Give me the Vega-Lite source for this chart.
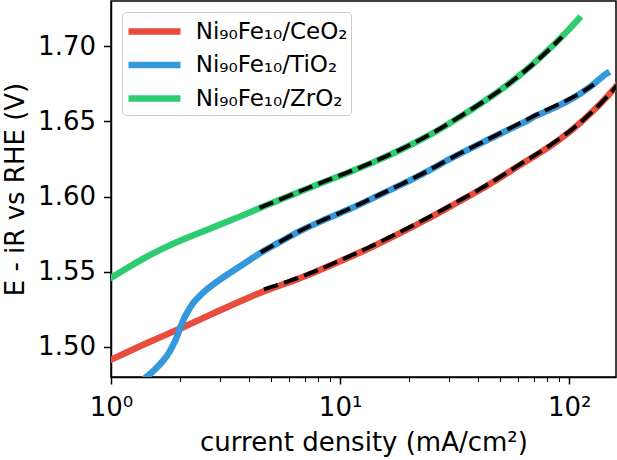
{
  "$schema": "https://vega.github.io/schema/vega-lite/v6.json",
  "width": 505,
  "height": 376,
  "autosize": {"type": "none"},
  "padding": {"left": 111, "top": 1, "right": 1, "bottom": 83},
  "background": "white",
  "datasets": {
    "curves": [
      {"sample": "Ni₉₀Fe₁₀/CeO₂", "j": 1, "E": 1.4915},
      {"sample": "Ni₉₀Fe₁₀/CeO₂", "j": 1.5, "E": 1.504},
      {"sample": "Ni₉₀Fe₁₀/CeO₂", "j": 2, "E": 1.512},
      {"sample": "Ni₉₀Fe₁₀/CeO₂", "j": 3, "E": 1.5245},
      {"sample": "Ni₉₀Fe₁₀/CeO₂", "j": 4, "E": 1.533},
      {"sample": "Ni₉₀Fe₁₀/CeO₂", "j": 5, "E": 1.539},
      {"sample": "Ni₉₀Fe₁₀/CeO₂", "j": 6.69, "E": 1.5455},
      {"sample": "Ni₉₀Fe₁₀/CeO₂", "j": 8, "E": 1.5505},
      {"sample": "Ni₉₀Fe₁₀/CeO₂", "j": 10, "E": 1.557},
      {"sample": "Ni₉₀Fe₁₀/CeO₂", "j": 13, "E": 1.5645},
      {"sample": "Ni₉₀Fe₁₀/CeO₂", "j": 18.3, "E": 1.5757},
      {"sample": "Ni₉₀Fe₁₀/CeO₂", "j": 24, "E": 1.5848},
      {"sample": "Ni₉₀Fe₁₀/CeO₂", "j": 30.2, "E": 1.5934},
      {"sample": "Ni₉₀Fe₁₀/CeO₂", "j": 40, "E": 1.6035},
      {"sample": "Ni₉₀Fe₁₀/CeO₂", "j": 50, "E": 1.6125},
      {"sample": "Ni₉₀Fe₁₀/CeO₂", "j": 60, "E": 1.6205},
      {"sample": "Ni₉₀Fe₁₀/CeO₂", "j": 70, "E": 1.6265},
      {"sample": "Ni₉₀Fe₁₀/CeO₂", "j": 82.6, "E": 1.6334},
      {"sample": "Ni₉₀Fe₁₀/CeO₂", "j": 100, "E": 1.6425},
      {"sample": "Ni₉₀Fe₁₀/CeO₂", "j": 115.5, "E": 1.651},
      {"sample": "Ni₉₀Fe₁₀/CeO₂", "j": 135, "E": 1.6605},
      {"sample": "Ni₉₀Fe₁₀/CeO₂", "j": 156, "E": 1.671},
      {"sample": "Ni₉₀Fe₁₀/CeO₂", "j": 170, "E": 1.678},
      {"sample": "Ni₉₀Fe₁₀/TiO₂", "j": 1.35, "E": 1.4765},
      {"sample": "Ni₉₀Fe₁₀/TiO₂", "j": 1.4, "E": 1.479},
      {"sample": "Ni₉₀Fe₁₀/TiO₂", "j": 1.55, "E": 1.4845},
      {"sample": "Ni₉₀Fe₁₀/TiO₂", "j": 1.71, "E": 1.4916},
      {"sample": "Ni₉₀Fe₁₀/TiO₂", "j": 1.8, "E": 1.4965},
      {"sample": "Ni₉₀Fe₁₀/TiO₂", "j": 1.89, "E": 1.5027},
      {"sample": "Ni₉₀Fe₁₀/TiO₂", "j": 1.95, "E": 1.5075},
      {"sample": "Ni₉₀Fe₁₀/TiO₂", "j": 2, "E": 1.5125},
      {"sample": "Ni₉₀Fe₁₀/TiO₂", "j": 2.07, "E": 1.518},
      {"sample": "Ni₉₀Fe₁₀/TiO₂", "j": 2.13, "E": 1.5218},
      {"sample": "Ni₉₀Fe₁₀/TiO₂", "j": 2.22, "E": 1.5265},
      {"sample": "Ni₉₀Fe₁₀/TiO₂", "j": 2.31, "E": 1.5303},
      {"sample": "Ni₉₀Fe₁₀/TiO₂", "j": 2.5, "E": 1.5357},
      {"sample": "Ni₉₀Fe₁₀/TiO₂", "j": 2.73, "E": 1.5405},
      {"sample": "Ni₉₀Fe₁₀/TiO₂", "j": 3.1, "E": 1.5465},
      {"sample": "Ni₉₀Fe₁₀/TiO₂", "j": 3.46, "E": 1.5513},
      {"sample": "Ni₉₀Fe₁₀/TiO₂", "j": 4, "E": 1.5575},
      {"sample": "Ni₉₀Fe₁₀/TiO₂", "j": 4.5, "E": 1.5628},
      {"sample": "Ni₉₀Fe₁₀/TiO₂", "j": 5.5, "E": 1.57},
      {"sample": "Ni₉₀Fe₁₀/TiO₂", "j": 6.69, "E": 1.5772},
      {"sample": "Ni₉₀Fe₁₀/TiO₂", "j": 8, "E": 1.5828},
      {"sample": "Ni₉₀Fe₁₀/TiO₂", "j": 11, "E": 1.5915},
      {"sample": "Ni₉₀Fe₁₀/TiO₂", "j": 14, "E": 1.5992},
      {"sample": "Ni₉₀Fe₁₀/TiO₂", "j": 18.3, "E": 1.6075},
      {"sample": "Ni₉₀Fe₁₀/TiO₂", "j": 24, "E": 1.6165},
      {"sample": "Ni₉₀Fe₁₀/TiO₂", "j": 30.2, "E": 1.6252},
      {"sample": "Ni₉₀Fe₁₀/TiO₂", "j": 40, "E": 1.6345},
      {"sample": "Ni₉₀Fe₁₀/TiO₂", "j": 50, "E": 1.6418},
      {"sample": "Ni₉₀Fe₁₀/TiO₂", "j": 60, "E": 1.6476},
      {"sample": "Ni₉₀Fe₁₀/TiO₂", "j": 68, "E": 1.6515},
      {"sample": "Ni₉₀Fe₁₀/TiO₂", "j": 70, "E": 1.6532},
      {"sample": "Ni₉₀Fe₁₀/TiO₂", "j": 72, "E": 1.6538},
      {"sample": "Ni₉₀Fe₁₀/TiO₂", "j": 82.6, "E": 1.6578},
      {"sample": "Ni₉₀Fe₁₀/TiO₂", "j": 100, "E": 1.6638},
      {"sample": "Ni₉₀Fe₁₀/TiO₂", "j": 115.5, "E": 1.6697},
      {"sample": "Ni₉₀Fe₁₀/TiO₂", "j": 130, "E": 1.6755},
      {"sample": "Ni₉₀Fe₁₀/TiO₂", "j": 141, "E": 1.6804},
      {"sample": "Ni₉₀Fe₁₀/TiO₂", "j": 146, "E": 1.6818},
      {"sample": "Ni₉₀Fe₁₀/ZrO₂", "j": 1, "E": 1.546},
      {"sample": "Ni₉₀Fe₁₀/ZrO₂", "j": 1.2, "E": 1.5532},
      {"sample": "Ni₉₀Fe₁₀/ZrO₂", "j": 1.4, "E": 1.5593},
      {"sample": "Ni₉₀Fe₁₀/ZrO₂", "j": 1.7, "E": 1.5658},
      {"sample": "Ni₉₀Fe₁₀/ZrO₂", "j": 2, "E": 1.5707},
      {"sample": "Ni₉₀Fe₁₀/ZrO₂", "j": 2.73, "E": 1.5788},
      {"sample": "Ni₉₀Fe₁₀/ZrO₂", "j": 3.46, "E": 1.5852},
      {"sample": "Ni₉₀Fe₁₀/ZrO₂", "j": 4.05, "E": 1.5895},
      {"sample": "Ni₉₀Fe₁₀/ZrO₂", "j": 4.47, "E": 1.5925},
      {"sample": "Ni₉₀Fe₁₀/ZrO₂", "j": 5.5, "E": 1.598},
      {"sample": "Ni₉₀Fe₁₀/ZrO₂", "j": 6.69, "E": 1.6033},
      {"sample": "Ni₉₀Fe₁₀/ZrO₂", "j": 8, "E": 1.6082},
      {"sample": "Ni₉₀Fe₁₀/ZrO₂", "j": 11, "E": 1.6162},
      {"sample": "Ni₉₀Fe₁₀/ZrO₂", "j": 14, "E": 1.6228},
      {"sample": "Ni₉₀Fe₁₀/ZrO₂", "j": 18.3, "E": 1.6308},
      {"sample": "Ni₉₀Fe₁₀/ZrO₂", "j": 24, "E": 1.6398},
      {"sample": "Ni₉₀Fe₁₀/ZrO₂", "j": 30.2, "E": 1.6488},
      {"sample": "Ni₉₀Fe₁₀/ZrO₂", "j": 40, "E": 1.6605},
      {"sample": "Ni₉₀Fe₁₀/ZrO₂", "j": 50, "E": 1.6705},
      {"sample": "Ni₉₀Fe₁₀/ZrO₂", "j": 60, "E": 1.6798},
      {"sample": "Ni₉₀Fe₁₀/ZrO₂", "j": 70, "E": 1.6885},
      {"sample": "Ni₉₀Fe₁₀/ZrO₂", "j": 80, "E": 1.6965},
      {"sample": "Ni₉₀Fe₁₀/ZrO₂", "j": 91.4, "E": 1.7052},
      {"sample": "Ni₉₀Fe₁₀/ZrO₂", "j": 100, "E": 1.7112},
      {"sample": "Ni₉₀Fe₁₀/ZrO₂", "j": 108, "E": 1.7168},
      {"sample": "Ni₉₀Fe₁₀/ZrO₂", "j": 110, "E": 1.7182}
    ],
    "fits": [
      {"sample": "Ni₉₀Fe₁₀/CeO₂", "j": 4.65, "E": 1.5382},
      {"sample": "Ni₉₀Fe₁₀/CeO₂", "j": 6.69, "E": 1.5462},
      {"sample": "Ni₉₀Fe₁₀/CeO₂", "j": 8, "E": 1.551},
      {"sample": "Ni₉₀Fe₁₀/CeO₂", "j": 10, "E": 1.5575},
      {"sample": "Ni₉₀Fe₁₀/CeO₂", "j": 13, "E": 1.5652},
      {"sample": "Ni₉₀Fe₁₀/CeO₂", "j": 18.3, "E": 1.5764},
      {"sample": "Ni₉₀Fe₁₀/CeO₂", "j": 24, "E": 1.5856},
      {"sample": "Ni₉₀Fe₁₀/CeO₂", "j": 30.2, "E": 1.594},
      {"sample": "Ni₉₀Fe₁₀/CeO₂", "j": 40, "E": 1.604},
      {"sample": "Ni₉₀Fe₁₀/CeO₂", "j": 50, "E": 1.613},
      {"sample": "Ni₉₀Fe₁₀/CeO₂", "j": 60, "E": 1.6208},
      {"sample": "Ni₉₀Fe₁₀/CeO₂", "j": 70, "E": 1.627},
      {"sample": "Ni₉₀Fe₁₀/CeO₂", "j": 82.6, "E": 1.634},
      {"sample": "Ni₉₀Fe₁₀/CeO₂", "j": 100, "E": 1.643},
      {"sample": "Ni₉₀Fe₁₀/CeO₂", "j": 115.5, "E": 1.651},
      {"sample": "Ni₉₀Fe₁₀/CeO₂", "j": 135, "E": 1.6605},
      {"sample": "Ni₉₀Fe₁₀/CeO₂", "j": 156, "E": 1.671},
      {"sample": "Ni₉₀Fe₁₀/CeO₂", "j": 170, "E": 1.6775},
      {"sample": "Ni₉₀Fe₁₀/TiO₂", "j": 4.5, "E": 1.5628},
      {"sample": "Ni₉₀Fe₁₀/TiO₂", "j": 5.5, "E": 1.5702},
      {"sample": "Ni₉₀Fe₁₀/TiO₂", "j": 6.69, "E": 1.5774},
      {"sample": "Ni₉₀Fe₁₀/TiO₂", "j": 8, "E": 1.583},
      {"sample": "Ni₉₀Fe₁₀/TiO₂", "j": 11, "E": 1.5917},
      {"sample": "Ni₉₀Fe₁₀/TiO₂", "j": 14, "E": 1.5994},
      {"sample": "Ni₉₀Fe₁₀/TiO₂", "j": 18.3, "E": 1.6077},
      {"sample": "Ni₉₀Fe₁₀/TiO₂", "j": 24, "E": 1.6167},
      {"sample": "Ni₉₀Fe₁₀/TiO₂", "j": 30.2, "E": 1.6254},
      {"sample": "Ni₉₀Fe₁₀/TiO₂", "j": 40, "E": 1.6347},
      {"sample": "Ni₉₀Fe₁₀/TiO₂", "j": 50, "E": 1.6422},
      {"sample": "Ni₉₀Fe₁₀/TiO₂", "j": 60, "E": 1.6482},
      {"sample": "Ni₉₀Fe₁₀/TiO₂", "j": 70, "E": 1.6535},
      {"sample": "Ni₉₀Fe₁₀/TiO₂", "j": 82.6, "E": 1.6588},
      {"sample": "Ni₉₀Fe₁₀/TiO₂", "j": 100, "E": 1.6645},
      {"sample": "Ni₉₀Fe₁₀/TiO₂", "j": 115.5, "E": 1.67},
      {"sample": "Ni₉₀Fe₁₀/TiO₂", "j": 128, "E": 1.6745},
      {"sample": "Ni₉₀Fe₁₀/ZrO₂", "j": 4.45, "E": 1.5925},
      {"sample": "Ni₉₀Fe₁₀/ZrO₂", "j": 5.5, "E": 1.5982},
      {"sample": "Ni₉₀Fe₁₀/ZrO₂", "j": 6.69, "E": 1.6035},
      {"sample": "Ni₉₀Fe₁₀/ZrO₂", "j": 8, "E": 1.6084},
      {"sample": "Ni₉₀Fe₁₀/ZrO₂", "j": 11, "E": 1.6164},
      {"sample": "Ni₉₀Fe₁₀/ZrO₂", "j": 14, "E": 1.623},
      {"sample": "Ni₉₀Fe₁₀/ZrO₂", "j": 18.3, "E": 1.631},
      {"sample": "Ni₉₀Fe₁₀/ZrO₂", "j": 24, "E": 1.64},
      {"sample": "Ni₉₀Fe₁₀/ZrO₂", "j": 30.2, "E": 1.649},
      {"sample": "Ni₉₀Fe₁₀/ZrO₂", "j": 40, "E": 1.6607},
      {"sample": "Ni₉₀Fe₁₀/ZrO₂", "j": 50, "E": 1.6705},
      {"sample": "Ni₉₀Fe₁₀/ZrO₂", "j": 60, "E": 1.6798},
      {"sample": "Ni₉₀Fe₁₀/ZrO₂", "j": 70, "E": 1.6883},
      {"sample": "Ni₉₀Fe₁₀/ZrO₂", "j": 80, "E": 1.6962},
      {"sample": "Ni₉₀Fe₁₀/ZrO₂", "j": 93, "E": 1.7062}
    ]
  },
  "encoding": {
    "x": {
      "field": "j",
      "type": "quantitative",
      "scale": {"type": "log", "domain": [1, 160], "nice": false},
      "axis": {
        "values": [1, 2, 3, 4, 5, 6, 7, 8, 9, 10, 20, 30, 40, 50, 60, 70, 80, 90, 100],
        "labelExpr": "datum.value == 1 ? '10⁰' : datum.value == 10 ? '10¹' : datum.value == 100 ? '10²' : ''",
        "tickSize": {"condition": {"test": "datum.value == 1 || datum.value == 10 || datum.value == 100", "value": 7}, "value": 4.5},
        "tickWidth": {"condition": {"test": "datum.value == 1 || datum.value == 10 || datum.value == 100", "value": 1.5}, "value": 1},
        "labelPadding": 10,
        "title": "current density (mA/cm²)",
        "titlePadding": 9
      }
    },
    "y": {
      "field": "E",
      "type": "quantitative",
      "scale": {"domain": [1.48, 1.73], "nice": false, "zero": false},
      "axis": {
        "values": [1.5, 1.55, 1.6, 1.65, 1.7],
        "format": ".2f",
        "tickSize": 7.5,
        "tickWidth": 1.5,
        "labelPadding": 8,
        "title": "E - iR vs RHE (V)",
        "titlePadding": 9
      }
    }
  },
  "layer": [
    {
      "data": {"name": "curves"},
      "mark": {"type": "line", "strokeWidth": 6.5, "interpolate": "basis", "clip": true, "strokeCap": "square", "strokeJoin": "round"},
      "encoding": {
        "color": {
          "field": "sample",
          "type": "nominal",
          "title": null,
          "scale": {
            "domain": ["Ni₉₀Fe₁₀/CeO₂", "Ni₉₀Fe₁₀/TiO₂", "Ni₉₀Fe₁₀/ZrO₂"],
            "range": ["#e74c3c", "#3498db", "#2ecc71"]
          }
        }
      }
    },
    {
      "data": {"name": "fits"},
      "mark": {"type": "line", "color": "black", "strokeWidth": 4, "strokeDash": [14.8, 6.4], "interpolate": "basis", "clip": true},
      "encoding": {
        "detail": {"field": "sample", "type": "nominal"}
      }
    }
  ],
  "config": {
    "font": "DejaVu Sans",
    "view": {"stroke": "black", "strokeWidth": 1.5},
    "axis": {
      "grid": false,
      "domainColor": "black",
      "domainWidth": 1.5,
      "tickColor": "black",
      "labelColor": "black",
      "titleColor": "black",
      "labelFont": "DejaVu Sans",
      "titleFont": "DejaVu Sans",
      "labelFontSize": 26,
      "titleFontSize": 26,
      "titleFontWeight": "normal",
      "labelFlush": false,
      "labelOverlap": false,
      "labelBound": false
    },
    "legend": {
      "orient": "top-left",
      "offset": 11,
      "symbolType": "M-1,0L3,0",
      "symbolSize": 676,
      "symbolStrokeWidth": 6.5,
      "labelFont": "DejaVu Sans",
      "labelFontSize": 23,
      "labelColor": "black",
      "labelOffset": 37.7,
      "rowPadding": 3.5,
      "padding": 3,
      "fillColor": "rgba(255,255,255,0.8)",
      "strokeColor": "#cccccc",
      "strokeWidth": 1,
      "cornerRadius": 4
    }
  }
}
